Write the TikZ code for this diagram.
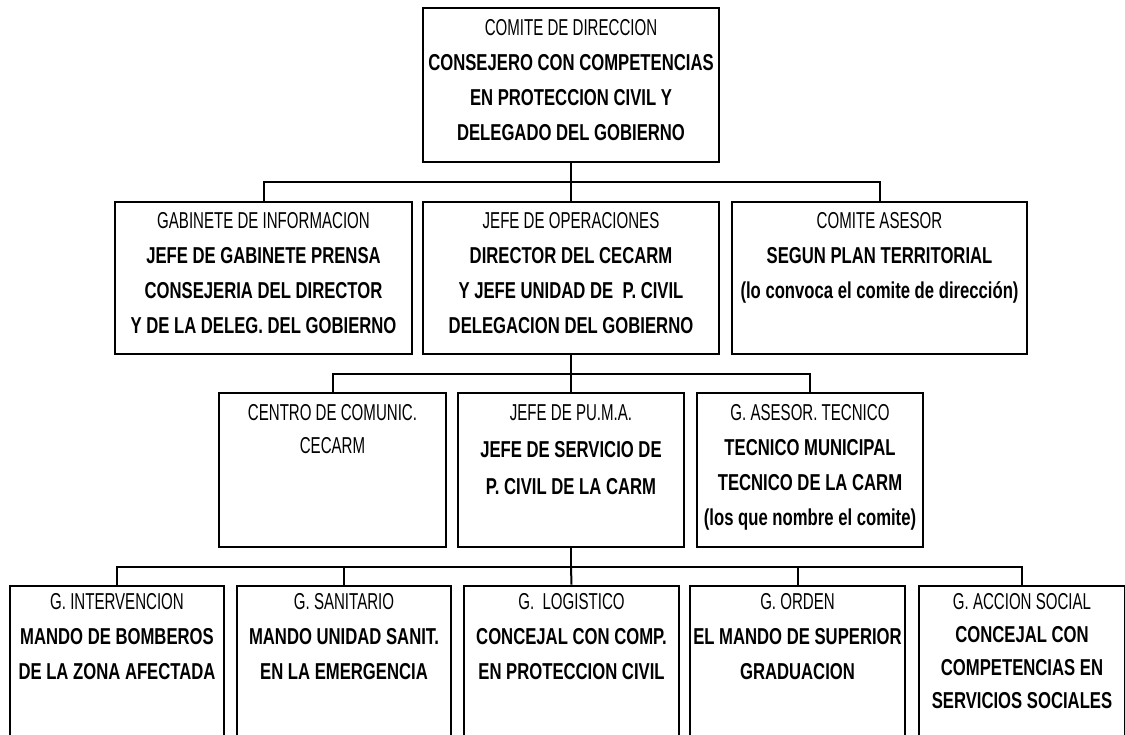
\documentclass[tikz,border=0pt]{standalone}
\usepackage{fontspec}
\setmainfont{Liberation Sans}
\newfontfamily\rfont{Liberation Sans}[FakeStretch=0.655]
\newfontfamily\bfont{Liberation Sans}[FakeStretch=0.725]
\newcommand\R[1]{{\rfont #1}}
\newcommand\B[1]{{\bfont\bfseries #1}}
\tikzset{
  box/.style={draw, line width=2.6pt, inner sep=0pt},
  txt/.style={anchor=north, inner sep=0pt, align=center, font=\fontsize{23pt}{35pt}\selectfont},
  conn/.style={line width=2pt},
}
\begin{document}
\begin{tikzpicture}[x=1pt,y=-1pt]
\clip (0,0) rectangle (1125,735);
\fill[white] (0,0) rectangle (1125,735);
% level 1
\node[box, minimum width=296pt, minimum height=154pt] (dir) at (571,85) {};
% level 2
\node[box, minimum width=297pt, minimum height=152pt] (gab) at (263.5,278) {};
\node[box, minimum width=296pt, minimum height=152pt] (ope) at (571,278) {};
\node[box, minimum width=295pt, minimum height=152pt] (ase) at (879.5,278) {};
% level 3
\node[box, minimum width=227pt, minimum height=154pt] (cen) at (332.5,470) {};
\node[box, minimum width=226pt, minimum height=154pt] (puma) at (571,470) {};
\node[box, minimum width=226pt, minimum height=154pt] (tec) at (810,470) {};
% level 4
\node[box, minimum width=214pt, minimum height=174pt] (b1) at (117,673) {};
\node[box, minimum width=214pt, minimum height=174pt] (b2) at (344,673) {};
\node[box, minimum width=215pt, minimum height=174pt] (b3) at (571.5,673) {};
\node[box, minimum width=215pt, minimum height=174pt] (b4) at (797.5,673) {};
\node[box, minimum width=206pt, minimum height=174pt] (b5) at (1022,673) {};

% texts
\node[txt] (tdir) at ([yshift=-13pt]dir.north) {\R{COMITE DE DIRECCION}\\ \B{CONSEJERO CON COMPETENCIAS}\\ \B{EN PROTECCION CIVIL Y}\\ \B{DELEGADO DEL GOBIERNO}};
\node[txt] (tgab) at ([yshift=-12pt]gab.north) {\R{GABINETE DE INFORMACION}\\ \B{JEFE DE GABINETE PRENSA}\\ \B{CONSEJERIA DEL DIRECTOR}\\ \B{Y DE LA DELEG. DEL GOBIERNO}};
\node[txt] (tope) at ([yshift=-12pt]ope.north) {\R{JEFE DE OPERACIONES}\\ \B{DIRECTOR DEL CECARM}\\ \B{Y JEFE UNIDAD DE \ P. CIVIL}\\ \B{DELEGACION DEL GOBIERNO}};
\node[txt] (tase) at ([yshift=-12pt]ase.north) {\R{COMITE ASESOR}\\ \B{SEGUN PLAN TERRITORIAL}\\ \B{(lo convoca el comite de dirección)}};
\node[txt, font=\fontsize{23pt}{33pt}\selectfont] (tcen) at ([yshift=-13pt]cen.north) {\R{CENTRO DE COMUNIC.}\\ \R{CECARM}};
\node[txt, font=\fontsize{23pt}{37pt}\selectfont] (tpuma) at ([yshift=-13pt]puma.north) {\R{JEFE DE PU.M.A.}\\ \B{JEFE DE SERVICIO DE}\\ \B{P. CIVIL DE LA CARM}};
\node[txt, font=\fontsize{23pt}{35pt}\selectfont] (ttec) at ([yshift=-13pt]tec.north) {\R{G. ASESOR. TECNICO}\\ \B{TECNICO MUNICIPAL}\\ \B{TECNICO DE LA CARM}\\ \B{(los que nombre el comite)}};
\node[txt] (tb1) at ([yshift=-9pt]b1.north) {\R{G. INTERVENCION}\\ \B{MANDO DE BOMBEROS}\\ \B{DE LA ZONA AFECTADA}};
\node[txt] (tb2) at ([yshift=-9pt]b2.north) {\R{G. SANITARIO}\\ \B{MANDO UNIDAD SANIT.}\\ \B{EN LA EMERGENCIA}};
\node[txt] (tb3) at ([yshift=-9pt]b3.north) {\R{G. \ LOGISTICO}\\ \B{CONCEJAL CON COMP.}\\ \B{EN PROTECCION CIVIL}};
\node[txt] (tb4) at ([yshift=-9pt]b4.north) {\R{G. ORDEN}\\ \B{EL MANDO DE SUPERIOR}\\ \B{GRADUACION}};
\node[txt, font=\fontsize{23pt}{33pt}\selectfont] (tb5) at ([yshift=-9pt]b5.north) {\R{G. ACCION SOCIAL}\\ \B{CONCEJAL CON}\\ \B{COMPETENCIAS EN}\\ \B{SERVICIOS SOCIALES}};

% connectors
\coordinate (j1) at (571,182);
\coordinate (j2) at (571,374);
\coordinate (j3) at (571,567);
\draw[conn] (dir.south) -- (j1);
\draw[conn] (gab.north) |- (j1) -| (ase.north);
\draw[conn] (j1) -- (ope.north);
\draw[conn] (ope.south) -- (j2);
\draw[conn] (cen.north) |- (j2) -| (tec.north);
\draw[conn] (j2) -- (puma.north);
\draw[conn] (puma.south) -- (j3);
\draw[conn] (b1.north) |- (j3) -| (b5.north);
\draw[conn] (b2.north) |- (j3);
\draw[conn] (b4.north) |- (j3);
\draw[conn] (j3) -- (b3.north);
\end{tikzpicture}
\end{document}
